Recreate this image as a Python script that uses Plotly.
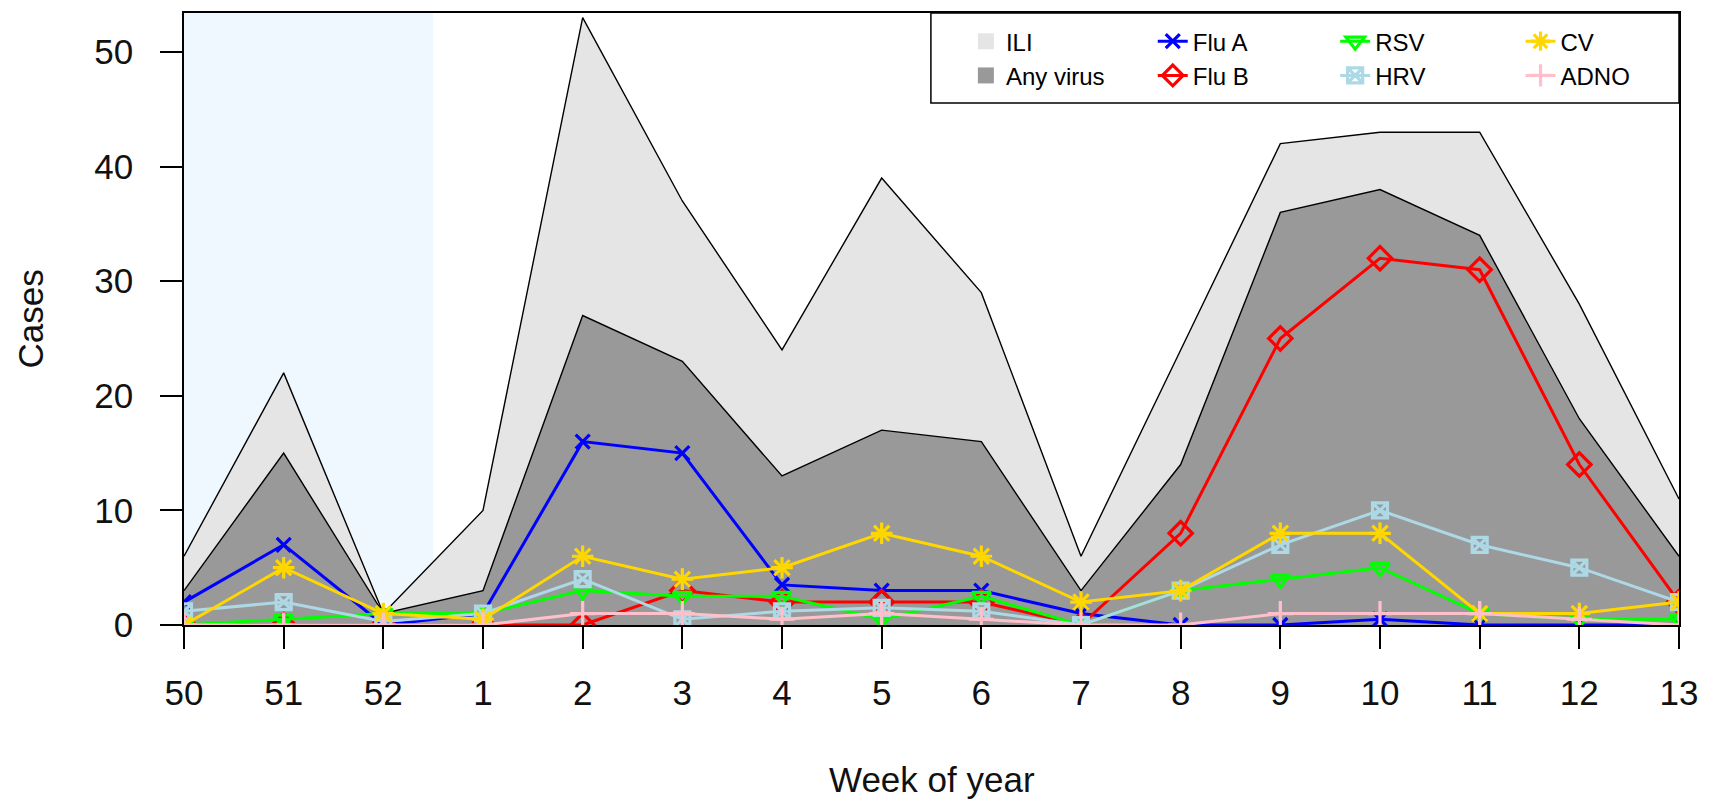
import plotly.graph_objects as go

weeks = ["50", "51", "52", "1", "2", "3", "4", "5", "6", "7", "8", "9", "10", "11", "12", "13"]
ili = [6, 22, 1, 10, 53, 37, 24, 39, 29, 6, 24, 42, 43, 43, 28, 11]
any_virus = [3, 15, 1, 3, 27, 23, 13, 17, 16, 3, 14, 36, 38, 34, 18, 6]
flu_a = [2, 7, 0, 1, 16, 15, 3.5, 3, 3, 1, 0, 0, 0.5, 0, 0, 0]
flu_b = [0, 0, 0, 0, 0, 3, 2, 2, 2, 0, 8, 25, 32, 31, 14, 2]
rsv = [0, 0.5, 1, 1, 3, 2.5, 2.5, 0.5, 2.5, 0, 3, 4, 5, 1, 0.5, 0.5]
hrv = [1.2, 2, 0.3, 1, 4, 0.5, 1.2, 1.5, 1.2, 0, 3, 7, 10, 7, 5, 2]
cv = [0, 5, 1, 0.5, 6, 4, 5, 8, 6, 2, 3, 8, 8, 1, 1, 2]
adno = [0, 0, 0, 0, 1, 1, 0.5, 1, 0.5, 0, 0, 1, 1, 1, 0.5, 0]
y_ticks = [0, 10, 20, 30, 40, 50]

x = list(range(len(weeks)))
FONT = "Liberation Sans, Arial, sans-serif"

fig = go.Figure()

# Areas
fig.add_trace(go.Scatter(x=x, y=ili, mode="lines", fill="tozeroy", fillcolor="#E5E5E5",
                         line=dict(color="black", width=1.4), showlegend=False, hoverinfo="skip"))
fig.add_trace(go.Scatter(x=x, y=any_virus, mode="lines", fill="tozeroy", fillcolor="#999999",
                         line=dict(color="black", width=1.4), showlegend=False, hoverinfo="skip"))

# Legend entries for areas
fig.add_trace(go.Scatter(x=[None], y=[None], mode="markers", name="ILI", legend="legend",
                         marker=dict(symbol="square", size=16, color="#E5E5E5")))
fig.add_trace(go.Scatter(x=[None], y=[None], mode="markers", name="Any virus", legend="legend",
                         marker=dict(symbol="square", size=16, color="#999999")))

series = [
    ("Flu A", flu_a, "#0000FF", "x-thin-open", 14, "legend2"),
    ("Flu B", flu_b, "#FF0000", "diamond-open", 18, "legend2"),
    ("RSV", rsv, "#00FF00", "triangle-down-open", 16, "legend3"),
    ("HRV", hrv, "#ADD8E6", "square-x-open", 15, "legend3"),
    ("CV", cv, "#FFD700", "asterisk-open", 18, "legend4"),
    ("ADNO", adno, "#FFC0CB", "cross-thin-open", 18, "legend4"),
]
for name, vals, col, sym, sz, lg in series:
    fig.add_trace(go.Scatter(
        x=x, y=vals, mode="lines+markers", name=name, legend=lg,
        line=dict(color=col, width=3),
        marker=dict(symbol=sym, size=sz, color=col, line=dict(color=col, width=3.2)),
    ))

# Light blue shaded period
fig.add_shape(type="rect", xref="x", yref="paper", x0=0, x1=2.5, y0=0, y1=1,
              fillcolor="#F0F8FF", line=dict(width=0), layer="below")
# Legend box
fig.add_shape(type="rect", xref="paper", yref="paper", x0=0.4996, x1=1.0, y0=0.853, y1=1.0,
              fillcolor="white", line=dict(color="black", width=1.5), layer="above")

leg_common = dict(orientation="v", xanchor="left", yanchor="top", y=0.99,
                  bgcolor="rgba(0,0,0,0)", borderwidth=0,
                  font=dict(family=FONT, size=24, color="black"), tracegroupgap=0)
fig.update_layout(
    legend=dict(x=0.523, **leg_common),
    legend2=dict(x=0.648, **leg_common),
    legend3=dict(x=0.770, **leg_common),
    legend4=dict(x=0.894, **leg_common),
)

fig.update_xaxes(
    range=[0, len(weeks) - 1], tickmode="array", tickvals=x, ticktext=weeks,
    showgrid=False, zeroline=False, showline=True, mirror=True, linecolor="black", linewidth=1.5,
    ticks="outside", ticklen=22, tickwidth=1.5, tickcolor="black", ticklabelstandoff=14,
    tickfont=dict(family=FONT, size=35, color="#111111"),
)
fig.update_yaxes(
    range=[0, 53.4], tickmode="array", tickvals=y_ticks,
    showgrid=False, zeroline=False, showline=True, mirror=True, linecolor="black", linewidth=1.5,
    ticks="outside", ticklen=22, tickwidth=1.5, tickcolor="black", ticklabelstandoff=20,
    tickfont=dict(family=FONT, size=35, color="#111111"),
)

fig.add_annotation(text="Week of year", xref="paper", yref="paper", x=0.5, y=-0.2524,
                   xanchor="center", yanchor="middle", showarrow=False,
                   font=dict(family=FONT, size=35, color="#111111"))
fig.add_annotation(text="Cases", xref="paper", yref="paper", x=-0.1027, y=0.5,
                   xanchor="center", yanchor="middle", textangle=-90, showarrow=False,
                   font=dict(family=FONT, size=35, color="#111111"))

fig.update_layout(
    width=1714, height=800,
    margin=dict(l=184, r=35, t=11, b=175),
    plot_bgcolor="white", paper_bgcolor="white",
    font=dict(family=FONT),
)

fig.write_html("out.html")
